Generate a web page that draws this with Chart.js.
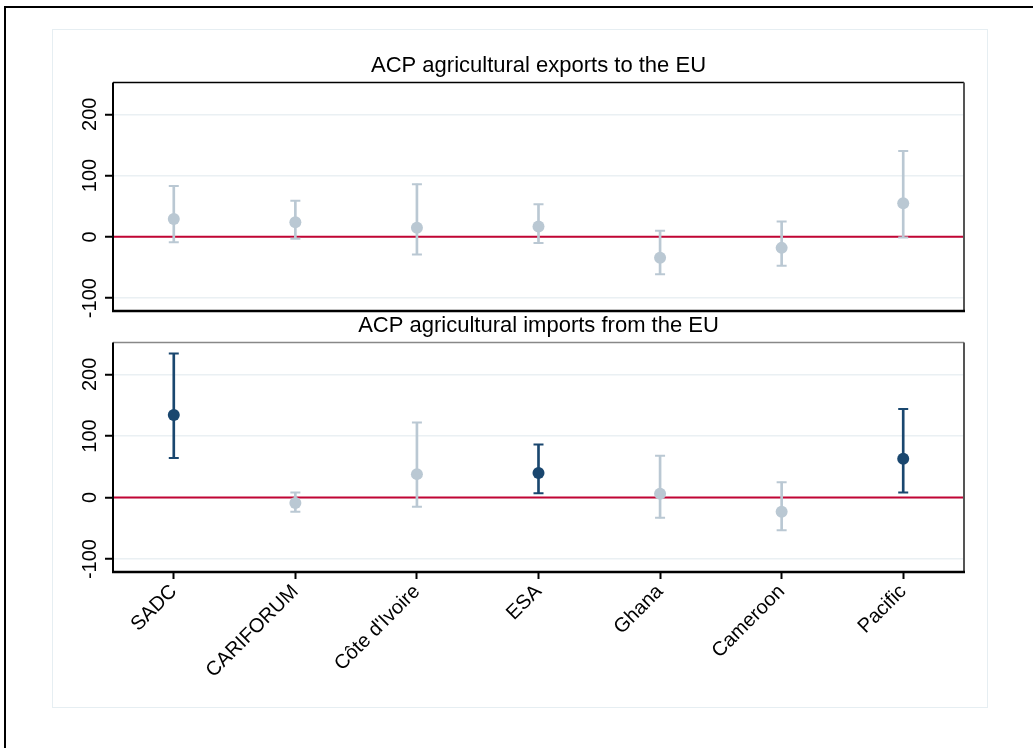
<!DOCTYPE html>
<html>
<head>
<meta charset="utf-8">
<script src="https://cdn.jsdelivr.net/npm/chart.js@4"></script>
<style>
  body { margin: 0; background: #fff; font-family: "Liberation Sans", Arial, sans-serif; }
  #wrap { position: relative; width: 1033px; height: 748px; overflow: hidden; }
  #outer { position: absolute; left: 4px; top: 6px; width: 1100px; height: 800px;
           border-left: 2px solid #000; border-top: 2px solid #000; }
  #inner { position: absolute; left: 52px; top: 29px; width: 934px; height: 677px;
           border: 1.5px solid #e6eef2; }
  canvas { position: absolute; left: 0; top: 0; }
</style>
</head>
<body>
<div id="wrap">
  <div id="outer"></div>
  <div id="inner"></div>
  <canvas id="top" width="1033" height="748"></canvas>
  <canvas id="bottom" width="1033" height="748"></canvas>
</div>
<script>
// regions
var categories = ["SADC", "CARIFORUM", "Côte d'Ivoire", "ESA", "Ghana", "Cameroon", "Pacific"];

// ACP agricultural exports to the EU
var exportEst = [29, 24, 15, 17, -34, -18, 55];
var exportLo  = [-9, -3, -29, -10, -61, -47, -1];
var exportHi  = [83, 59, 86, 53, 10, 25, 140];

// ACP agricultural imports from the EU
var importEst = [134, -9, 38, 40, 6, -23, 63];
var importLo  = [64, -23, -15, 7, -33, -53, 8];
var importHi  = [234, 8, 122, 86, 68, 25, 144];

var yTicks = [-100, 0, 100, 200];

var LIGHT = "#bac8d3";
var DARK = "#1a476f";
var RED = "#c10534";
var GRID = "#eaf0f3";
var FONT = "'Liberation Sans', Arial, sans-serif";

// colour a region dark when its interval does not cross zero
function colours(lo, hi) {
    var out = [];
    for (let i = 0; i < lo.length; i++) {
        out.push(lo[i] > 0 || hi[i] < 0 ? DARK : LIGHT);
    }
    return out;
}

// zero line, frame and rotated y labels
var panelPlugin = {
    id: "panel",
    beforeDatasetsDraw: function(chart) {
        var ctx = chart.ctx, a = chart.chartArea;
        var y0 = chart.scales.y.getPixelForValue(0);
        ctx.save();
        ctx.strokeStyle = RED;
        ctx.lineWidth = 2;
        ctx.beginPath();
        ctx.moveTo(a.left, y0);
        ctx.lineTo(a.right, y0);
        ctx.stroke();
        ctx.restore();
    },
    afterDraw: function(chart, args, opts) {
        var ctx = chart.ctx, a = chart.chartArea, ys = chart.scales.y;
        ctx.save();
        // frame
        ctx.lineWidth = 1.5;
        ctx.strokeStyle = opts.topColor;
        ctx.beginPath(); ctx.moveTo(a.left, a.top); ctx.lineTo(a.right, a.top); ctx.stroke();
        ctx.lineWidth = 2;
        ctx.strokeStyle = "#555";
        ctx.beginPath(); ctx.moveTo(a.right, a.top); ctx.lineTo(a.right, a.bottom); ctx.stroke();
        ctx.strokeStyle = "#000";
        ctx.beginPath(); ctx.moveTo(a.left, a.top); ctx.lineTo(a.left, a.bottom + 1); ctx.stroke();
        ctx.lineWidth = 2.5;
        ctx.beginPath(); ctx.moveTo(a.left - 1, a.bottom); ctx.lineTo(a.right + 1, a.bottom); ctx.stroke();
        // y labels, read bottom to top
        ctx.fillStyle = "#000";
        ctx.font = "20px " + FONT;
        ctx.textAlign = "center";
        ctx.textBaseline = "middle";
        ys.ticks.forEach(function(t) {
            var y = ys.getPixelForValue(t.value);
            ctx.save();
            ctx.translate(a.left - 23, y);
            ctx.rotate(-Math.PI / 2);
            ctx.fillText(String(t.value), 0, 0);
            ctx.restore();
        });
        ctx.restore();
    }
};

function makePanel(id, title, est, lo, hi, pad, showX, topColor) {
    var col = colours(lo, hi);
    var bars = [];
    for (let i = 0; i < lo.length; i++) {
        bars.push([lo[i], hi[i]]);
    }
    return new Chart(document.getElementById(id), {
        type: "bar",
        data: {
            labels: categories,
            datasets: [
                {
                    type: "line", data: est, order: 0, showLine: false,
                    pointRadius: 6, pointBorderWidth: 0,
                    pointBackgroundColor: col, pointBorderColor: col
                },
                {
                    type: "line", data: lo, order: 1, showLine: false,
                    pointStyle: "line", pointRadius: 5, pointBorderWidth: 2,
                    pointBorderColor: col
                },
                {
                    type: "line", data: hi, order: 1, showLine: false,
                    pointStyle: "line", pointRadius: 5, pointBorderWidth: 2,
                    pointBorderColor: col
                },
                {
                    type: "bar", data: bars, order: 2,
                    barThickness: 2, backgroundColor: col, borderWidth: 0
                }
            ]
        },
        options: {
            responsive: false,
            animation: false,
            events: [],
            devicePixelRatio: 1,
            layout: { padding: pad },
            plugins: {
                legend: { display: false },
                tooltip: { enabled: false },
                title: {
                    display: true,
                    text: title,
                    color: "#000",
                    font: { family: FONT, size: 22, weight: "normal" },
                    padding: { top: 0, bottom: 3 }
                },
                panel: { topColor: topColor }
            },
            scales: {
                x: {
                    display: showX,
                    offset: true,
                    grid: {
                        offset: false,
                        drawOnChartArea: false,
                        drawTicks: true,
                        tickLength: 7,
                        tickColor: "#000",
                        tickWidth: 2
                    },
                    border: { display: false },
                    ticks: {
                        color: "#000",
                        font: { family: FONT, size: 20 },
                        minRotation: 45,
                        maxRotation: 45,
                        padding: 1
                    },
                    afterFit: function(s) { s.height = showX ? 138 : 0; }
                },
                y: {
                    min: -121,
                    max: 252,
                    afterBuildTicks: function(s) {
                        s.ticks = yTicks.map(function(v) { return { value: v }; });
                    },
                    grid: {
                        color: GRID,
                        lineWidth: 1.5,
                        tickLength: 8,
                        tickColor: "#000",
                        tickWidth: 2
                    },
                    border: { display: false },
                    ticks: { display: false },
                    afterFit: function(s) { s.width = 0; }
                }
            }
        },
        plugins: [panelPlugin]
    });
}

makePanel("top", "ACP agricultural exports to the EU", exportEst, exportLo, exportHi,
    { top: 53, bottom: 437, left: 113, right: 69 }, false, "#000");
makePanel("bottom", "ACP agricultural imports from the EU", importEst, importLo, importHi,
    { top: 313, bottom: 38, left: 113, right: 69 }, true, "#888");
</script>
</body>
</html>
